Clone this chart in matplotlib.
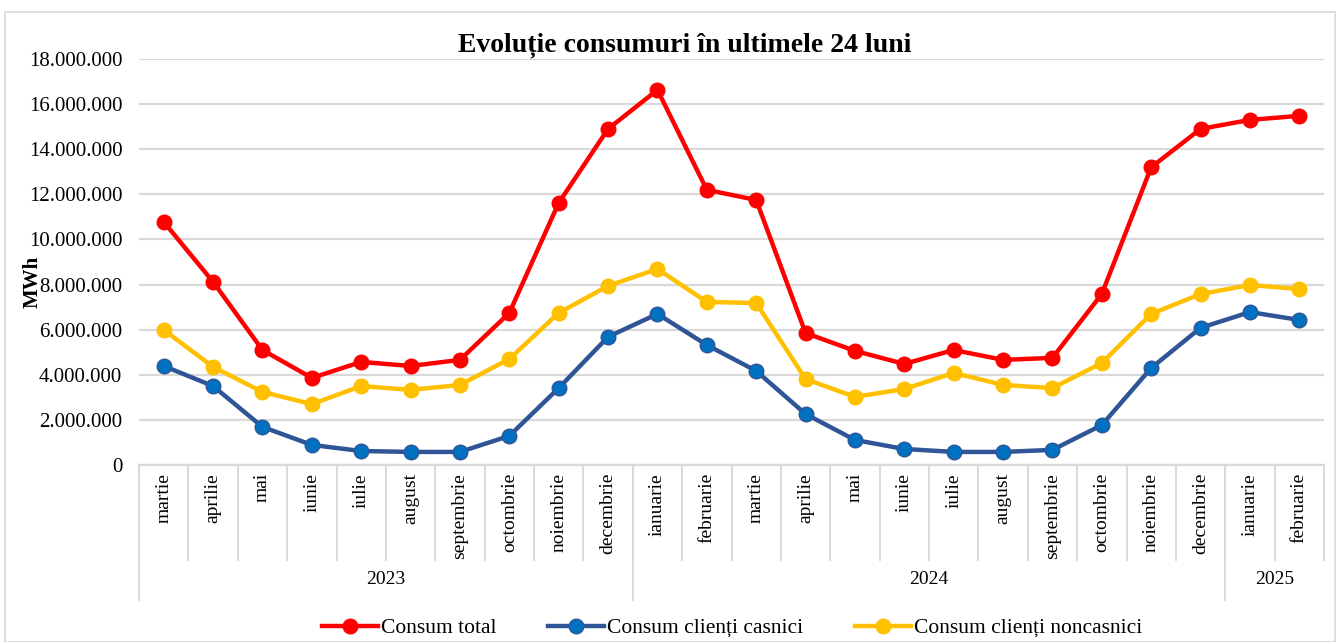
import matplotlib
matplotlib.use("Agg")
import matplotlib.pyplot as plt
from matplotlib.ticker import FuncFormatter
from matplotlib.lines import Line2D
from matplotlib.patches import Rectangle
import matplotlib.transforms as mtransforms

plt.rcParams['font.family'] = ['Liberation Serif', 'DejaVu Serif']

months = ["martie", "aprilie", "mai", "iunie", "iulie", "august", "septembrie",
          "octombrie", "noiembrie", "decembrie", "ianuarie", "februarie",
          "martie", "aprilie", "mai", "iunie", "iulie", "august", "septembrie",
          "octombrie", "noiembrie", "decembrie", "ianuarie", "februarie"]
years = ["2023", "2024", "2025"]
year_counts = [10, 12, 2]

consum_total = [10.78e6, 8.12e6, 5.10e6, 3.86e6, 4.57e6, 4.39e6, 4.66e6, 6.74e6,
                11.62e6, 14.90e6, 16.63e6, 12.20e6, 11.75e6, 5.85e6, 5.06e6, 4.48e6,
                5.10e6, 4.66e6, 4.75e6, 7.58e6, 13.20e6, 14.90e6, 15.30e6, 15.48e6]
consum_casnici = [4.39e6, 3.50e6, 1.69e6, 0.89e6, 0.62e6, 0.58e6, 0.58e6, 1.29e6,
                  3.41e6, 5.68e6, 6.70e6, 5.32e6, 4.17e6, 2.26e6, 1.11e6, 0.71e6,
                  0.58e6, 0.58e6, 0.67e6, 1.77e6, 4.30e6, 6.08e6, 6.78e6, 6.43e6]
consum_noncasnici = [5.99e6, 4.35e6, 3.24e6, 2.70e6, 3.50e6, 3.33e6, 3.55e6, 4.70e6,
                     6.74e6, 7.94e6, 8.69e6, 7.23e6, 7.18e6, 3.81e6, 3.02e6, 3.37e6,
                     4.08e6, 3.55e6, 3.41e6, 4.52e6, 6.70e6, 7.58e6, 7.98e6, 7.80e6]

W, H = 1336, 642
fig = plt.figure(figsize=(W / 100, H / 100), dpi=100)
L, R, T, B = 139, 1324, 59, 465
ax = fig.add_axes([L / W, 1 - B / H, (R - L) / W, (B - T) / H])

# outer border
fig.patches.append(Rectangle((5 / W, 0.5 / H), (W - 6) / W, (H - 12.5) / H,
                             transform=fig.transFigure, fill=False,
                             edgecolor="#d9d9d9", linewidth=1.2))

x = list(range(len(months)))
ax.plot(x, consum_total, color="#FF0000", lw=3.2, marker="o", ms=10.5,
        markerfacecolor="#FF0000", markeredgecolor="#FF0000", label="Consum total", zorder=5)
ax.plot(x, consum_casnici, color="#2F5597", lw=3.2, marker="o", ms=10.5,
        markerfacecolor="#0070C0", markeredgecolor="#2F5597", markeredgewidth=1,
        label="Consum clienți casnici", zorder=4)
ax.plot(x, consum_noncasnici, color="#FFC000", lw=3.2, marker="o", ms=10.5,
        markerfacecolor="#FFC000", markeredgecolor="#FFC000",
        label="Consum clienți noncasnici", zorder=3)

ax.set_xlim(-0.5, len(months) - 0.5)
ax.set_ylim(0, 18e6)
ax.set_yticks([i * 2e6 for i in range(10)])
ax.yaxis.set_major_formatter(FuncFormatter(lambda v, p: f"{int(v):,}".replace(",", ".")))
ax.tick_params(axis="y", length=0, labelsize=15, pad=12)
ax.set_xticks([])
ax.grid(axis="y", color="#d9d9d9", linewidth=1.6)
ax.set_axisbelow(True)
for s in ["left", "right", "top"]:
    ax.spines[s].set_visible(False)
ax.spines["bottom"].set_color("#d9d9d9")
ax.spines["bottom"].set_linewidth(1.6)

ax.set_ylabel("MWh", fontsize=15, fontweight="bold")
ax.yaxis.set_label_coords((43 - L) / (R - L), (465 - 282) / (B - T))

fig.text(685 / W, 1 - 45 / H, "Evoluție consumuri în ultimele 24 luni",
         fontsize=20, fontweight="bold", ha="center", va="center")

trans = mtransforms.blended_transform_factory(ax.transData, ax.transAxes)
axh = B - T
month_bottom = -(560 - B) / axh
year_bottom = -(600 - B) / axh
for i, m in enumerate(months):
    ax.text(i, -8 / axh, m, rotation=90, ha="center", va="top", fontsize=14,
            transform=trans, clip_on=False)
# month dividers
for i in range(len(months) + 1):
    ax.add_line(Line2D([i - 0.5, i - 0.5], [0, month_bottom], transform=trans,
                       color="#d9d9d9", lw=1.4, clip_on=False))
# year dividers and labels
start = 0
bounds = [0]
for yl, c in zip(years, year_counts):
    ax.text(start + (c - 1) / 2, -(580 - B) / axh, yl, ha="center", va="center",
            fontsize=14, transform=trans, clip_on=False)
    start += c
    bounds.append(start)
for b in bounds:
    if b == len(months):
        continue
    ax.add_line(Line2D([b - 0.5, b - 0.5], [0, year_bottom], transform=trans,
                       color="#d9d9d9", lw=1.4, clip_on=False))

leg = fig.legend(loc="center", bbox_to_anchor=(732 / W, 1 - 628 / H), ncol=3,
                 frameon=False, fontsize=15.5, handlelength=2.6, columnspacing=2.4,
                 handletextpad=0.15)

fig.savefig("out.png", dpi=100)
